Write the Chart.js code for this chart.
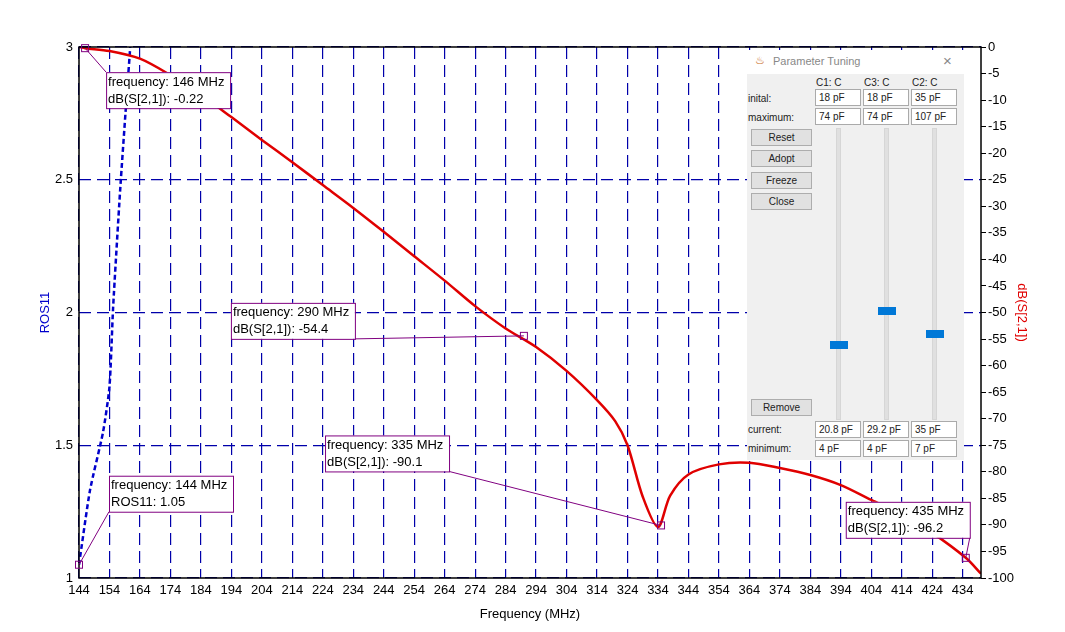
<!DOCTYPE html>
<html>
<head>
<meta charset="utf-8">
<script src="https://cdn.jsdelivr.net/npm/chart.js@4/dist/chart.umd.min.js"></script>
<style>
  body { margin: 0; background: #fff; font-family: "Liberation Sans", Arial, sans-serif; }
  #wrap { position: relative; width: 1065px; height: 632px; }
  .dlg { position: absolute; left: 747px; top: 50px; width: 217px; height: 410px; background: #f0f0f0; font-size: 10px; color: #222; }
  .dlg .bar { position: absolute; left: 0; top: 0; width: 217px; height: 24px; background: #fff; color: #888; font-size: 11px; }
  .dlg .abs { position: absolute; }
  .dlg .box { position: absolute; background: #fff; border: 1px solid #aaa; line-height: 15px; padding-left: 3px; box-sizing: border-box; width: 46px; height: 17px; }
  .dlg .btn { position: absolute; left: 4px; width: 61px; height: 17px; background: #e1e1e1; border: 1px solid #adadad; text-align: center; line-height: 16px; box-sizing: border-box; }
  .dlg .track { position: absolute; width: 3px; top: 78px; height: 290px; background: #e0e0e0; border: 1px solid #d6d6d6; }
  .dlg .thumb { position: absolute; width: 18px; height: 8px; background: #0078d7; }
</style>
</head>
<body>
<div id="wrap">
  <canvas id="chart" width="1065" height="632"></canvas>
  <div class="dlg">
    <div class="bar"><span class="abs" style="left:8px;top:4px;color:#c86a1a">&#9832;</span><span class="abs" style="left:26px;top:5px">Parameter Tuning</span><span class="abs" style="left:196px;top:2px;font-size:15px">&#215;</span></div>
    <span class="abs" style="left:69px;top:27px">C1: C</span><span class="abs" style="left:117px;top:27px">C3: C</span><span class="abs" style="left:165px;top:27px">C2: C</span>
    <span class="abs" style="left:1px;top:43px">inital:</span><span class="abs" style="left:1px;top:62px">maximum:</span>
    <div class="box" style="left:68px;top:39px">18 pF</div><div class="box" style="left:116px;top:39px">18 pF</div><div class="box" style="left:164px;top:39px">35 pF</div>
    <div class="box" style="left:68px;top:58px">74 pF</div><div class="box" style="left:116px;top:58px">74 pF</div><div class="box" style="left:164px;top:58px">107 pF</div>
    <div class="btn" style="top:79px">Reset</div><div class="btn" style="top:100px">Adopt</div><div class="btn" style="top:122px">Freeze</div><div class="btn" style="top:143px">Close</div>
    <div class="btn" style="top:349px">Remove</div>
    <div class="track" style="left:89px"></div><div class="track" style="left:137px"></div><div class="track" style="left:185px"></div>
    <div class="thumb" style="left:83px;top:291px"></div><div class="thumb" style="left:131px;top:257px"></div><div class="thumb" style="left:179px;top:280px"></div>
    <span class="abs" style="left:1px;top:374px">current:</span><span class="abs" style="left:1px;top:393px">minimum:</span>
    <div class="box" style="left:68px;top:371px">20.8 pF</div><div class="box" style="left:116px;top:371px">29.2 pF</div><div class="box" style="left:164px;top:371px">35 pF</div>
    <div class="box" style="left:68px;top:390px">4 pF</div><div class="box" style="left:116px;top:390px">4 pF</div><div class="box" style="left:164px;top:390px">7 pF</div>
  </div>
</div>
<script>
// dB(S[2,1])
const s21Freq = [144, 146, 154, 164, 174, 184, 194, 204, 214, 224, 234, 244, 254, 264, 274, 284, 294, 304, 314, 320, 324, 329, 334, 338, 344, 354, 364, 374, 384, 394, 404, 414, 424, 435, 440];
const s21dB   = [0, -0.22, -0.75, -2.2, -5.3, -9, -13.2, -17.5, -21.7, -26, -30.3, -34.8, -39.4, -44, -48.8, -53, -56.5, -61, -66.5, -70.5, -75, -84.7, -90.4, -84.5, -80.5, -78.6, -78.3, -79.3, -80.6, -82.5, -85.3, -88, -91.5, -96.2, -99.2];
// ROS11 (VSWR)
const rosFreq = [144, 147.6, 151.9, 154, 155.2, 157.5, 159.8, 160.8, 161.5];
const rosVal  = [1.05, 1.33, 1.55, 1.72, 2.02, 2.46, 2.84, 3.0, 3.2];
const xTicks = [144, 154, 164, 174, 184, 194, 204, 214, 224, 234, 244, 254, 264, 274, 284, 294, 304, 314, 324, 334, 344, 354, 364, 374, 384, 394, 404, 414, 424, 434];
const yTicks = [1, 1.5, 2, 2.5, 3];
// markers: [freq, value, axis, line1, line2]
const markers = [
  [146, -0.22, 'y2', 'frequency: 146 MHz', 'dB(S[2,1]): -0.22'],
  [290, -54.4, 'y2', 'frequency: 290 MHz', 'dB(S[2,1]): -54.4'],
  [335, -90.1, 'y2', 'frequency: 335 MHz', 'dB(S[2,1]): -90.1'],
  [144, 1.05, 'y', 'frequency: 144 MHz', 'ROS11: 1.05'],
  [435, -96.2, 'y2', 'frequency: 435 MHz', 'dB(S[2,1]): -96.2']
];
// label box offsets from marker (dx, dy) and which corner the leader line leaves from
const boxPos = [[21, 24, 'tl'], [-293, -33, 'br'], [-336, -90, 'br'], [30, -89, 'bl'], [-120, -56, 'br']];

const font = "13px 'Liberation Sans', Arial, sans-serif";

const markerPlugin = {
  id: 'markers',
  afterDatasetsDraw(chart) {
    const ctx = chart.ctx, a = chart.chartArea, xs = chart.scales.x;
    ctx.save();
    ctx.strokeStyle = '#000';
    ctx.lineWidth = 1.5;
    ctx.strokeRect(a.left, a.top, a.right - a.left, a.bottom - a.top);
    ctx.font = font;
    markers.forEach((m, i) => {
      const px = xs.getPixelForValue(m[0]);
      const py = chart.scales[m[2]].getPixelForValue(m[1]);
      const bx = px + boxPos[i][0], by = py + boxPos[i][1];
      const w = 124, h = 36;
      const c = boxPos[i][2];
      const cx = c.includes('r') ? bx + w : bx;
      const cy = c.includes('b') ? by + h : by;
      ctx.strokeStyle = '#800080';
      ctx.lineWidth = 1;
      ctx.beginPath(); ctx.moveTo(px, py); ctx.lineTo(cx, cy); ctx.stroke();
      ctx.strokeRect(px - 3.5, py - 3.5, 7, 7);
      ctx.fillStyle = '#fff';
      ctx.fillRect(bx, by, w, h);
      ctx.strokeRect(bx + 0.5, by + 0.5, w, h);
      ctx.fillStyle = '#000';
      ctx.textBaseline = 'middle';
      ctx.fillText(m[3], bx + 2, by + 10);
      ctx.fillText(m[4], bx + 2, by + 27);
    });
    ctx.restore();
  }
};

new Chart(document.getElementById('chart'), {
  type: 'line',
  data: {
    datasets: [
      {
        label: 'dB(S[2,1])',
        data: s21Freq.map((f, i) => ({ x: f, y: s21dB[i] })),
        yAxisID: 'y2',
        borderColor: '#e00000',
        borderWidth: 2.5,
        pointRadius: 0,
        tension: 0.3
      },
      {
        label: 'ROS11',
        data: rosFreq.map((f, i) => ({ x: f, y: rosVal[i] })),
        yAxisID: 'y',
        borderColor: '#0000cc',
        borderWidth: 2.5,
        borderDash: [5, 3],
        pointRadius: 0,
        tension: 0.2
      }
    ]
  },
  options: {
    responsive: false,
    animation: false,
    layout: { padding: { top: 47, left: 0, right: 0, bottom: 0 } },
    plugins: { legend: { display: false }, tooltip: { enabled: false } },
    scales: {
      x: {
        type: 'linear', min: 144, max: 440,
        afterBuildTicks: s => { s.ticks = xTicks.map(v => ({ value: v })); },
        afterFit: s => { s.height = 54; },
        grid: { color: '#0000aa', lineWidth: 1.2, drawTicks: false },
        border: { display: false, dash: [12, 6] },
        ticks: { color: '#000', font: { size: 13, family: 'Liberation Sans' }, padding: 5, maxRotation: 0, autoSkip: false },
        title: { display: true, text: 'Frequency (MHz)', color: '#000', font: { size: 13, family: 'Liberation Sans' }, padding: { top: 0, bottom: 10 } }
      },
      y: {
        position: 'left', min: 1, max: 3,
        afterBuildTicks: s => { s.ticks = yTicks.map(v => ({ value: v })); },
        afterFit: s => { s.width = 79; },
        grid: { color: '#0000aa', lineWidth: 1.2, drawTicks: false },
        border: { display: false, dash: [12, 6] },
        ticks: { color: '#000', font: { size: 13, family: 'Liberation Sans' }, padding: 6, callback: v => String(v) },
        title: { display: true, text: 'ROS11', color: '#0000cc', font: { size: 13, family: 'Liberation Sans' }, padding: { top: 38, bottom: 0 } }
      },
      y2: {
        position: 'right', min: -100, max: 0,
        ticks: { stepSize: 5, color: '#000', font: { size: 13, family: 'Liberation Sans' }, padding: 2 },
        afterFit: s => { s.width = 84; },
        grid: { drawOnChartArea: false, color: '#000', tickLength: 5 },
        border: { display: false },
        title: { display: true, text: 'dB(S[2,1])', color: '#e00000', font: { size: 13, family: 'Liberation Sans' }, padding: { top: 36, bottom: 0 } }
      }
    }
  },
  plugins: [markerPlugin]
});
</script>
</body>
</html>
